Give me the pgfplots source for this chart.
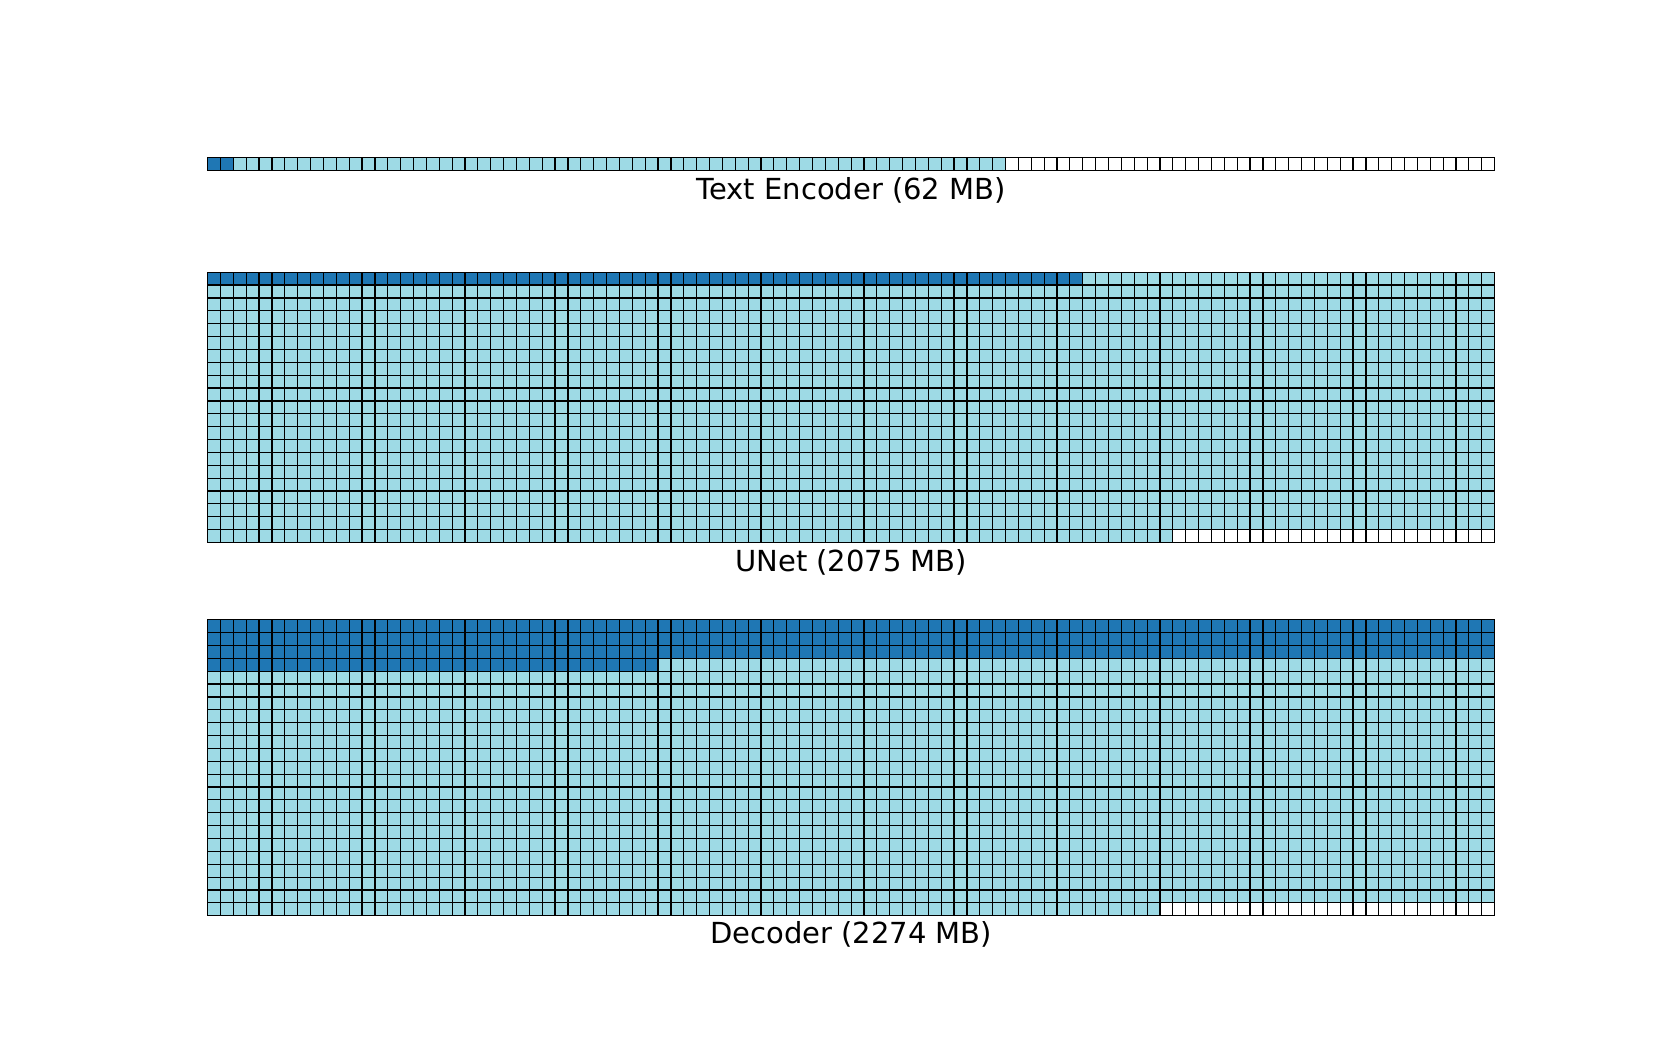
\documentclass[border=0pt]{standalone}
\usepackage{pgfplots}
\pgfplotsset{compat=1.18}
\usepackage{fontspec}
\setmainfont{DejaVu Sans}
\definecolor{wdark}{HTML}{1F77B4}
\definecolor{wlight}{HTML}{9EDAE5}
\pgfplotsset{
  waffle/.style={
    scale only axis,
    width=643.5pt,
    xmin=0, xmax=100,
    ymin=0,
    y dir=reverse,
    xtick={0,...,100},
    xticklabels={},
    yticklabels={},
    major tick length=0pt,
    grid=major,
    grid style={black, line width=0.6pt},
    axis line style={black, line width=0.6pt},
    axis on top,
    anchor=north west,
  }
}
\begin{document}
\begin{tikzpicture}
\path (0,0) rectangle (830.5pt,-519pt);
% Text Encoder: 62 cells, 2 dark
\begin{axis}[waffle, at={(103.8pt,-78.9pt)}, height=6.435pt, ymax=1, ytick={0,1}, name=te]
\addplot[fill=wdark, draw=none] coordinates {(0,0) (2,0) (2,1) (0,1)} -- cycle;
\addplot[fill=wlight, draw=none] coordinates {(2,0) (62,0) (62,1) (2,1)} -- cycle;
\end{axis}
\node[anchor=base, font=\fontsize{14.5pt}{17pt}\selectfont] at (425.6pt,-99.6pt) {Text Encoder (62 MB)};
% UNet: 2075 cells, 68 dark, 21 rows
\begin{axis}[waffle, at={(103.8pt,-136.1pt)}, height=135.135pt, ymax=21, ytick={0,...,21}]
\addplot[fill=wdark, draw=none] coordinates {(0,0) (68,0) (68,1) (0,1)} -- cycle;
\addplot[fill=wlight, draw=none] coordinates {(68,0) (100,0) (100,20) (75,20) (75,21) (0,21) (0,1) (68,1)} -- cycle;
\end{axis}
\node[anchor=base, font=\fontsize{14.5pt}{17pt}\selectfont] at (425.6pt,-285.8pt) {UNet (2075 MB)};
% Decoder: 2274 cells, 335 dark, 23 rows
\begin{axis}[waffle, at={(103.8pt,-309.85pt)}, height=148.005pt, ymax=23, ytick={0,...,23}]
\addplot[fill=wdark, draw=none] coordinates {(0,0) (100,0) (100,3) (35,3) (35,4) (0,4)} -- cycle;
\addplot[fill=wlight, draw=none] coordinates {(35,3) (100,3) (100,22) (74,22) (74,23) (0,23) (0,4) (35,4)} -- cycle;
\end{axis}
\node[anchor=base, font=\fontsize{14.5pt}{17pt}\selectfont] at (425.6pt,-471.9pt) {Decoder (2274 MB)};
\end{tikzpicture}
\end{document}
